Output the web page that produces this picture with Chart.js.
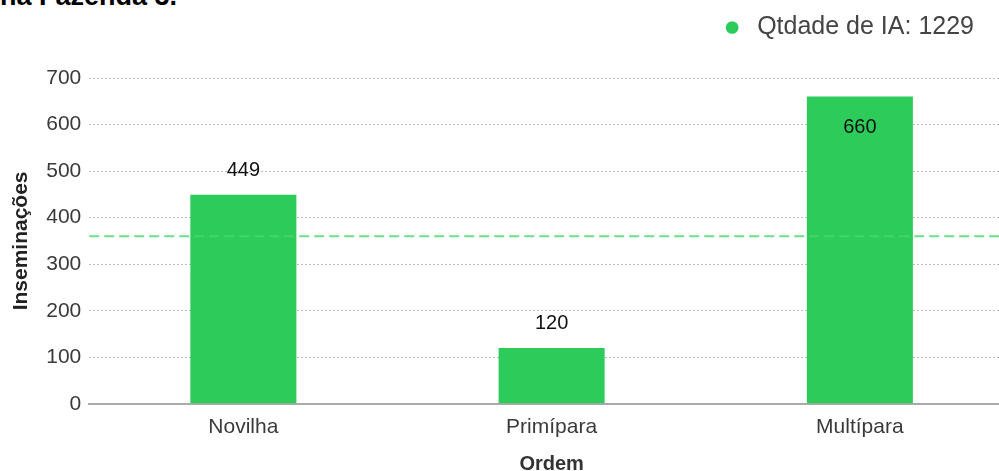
<!DOCTYPE html>
<html lang="pt">
<head>
    <meta charset="UTF-8">
    <title>Inseminações por Ordem</title>
    <script src="https://cdn.jsdelivr.net/npm/chart.js"></script>
    <style>
        html, body { margin: 0; padding: 0; background: #fff; overflow: hidden; width: 999px; height: 471px; }
        /* title is cut off at the top of the picture */
        #titulo {
            position: absolute;
            left: 0;
            top: -17px;
            font: bold 27px/27px "Liberation Sans", Arial, sans-serif;
            color: #000;
            white-space: nowrap;
        }
        /* chart runs a little past the right edge, like the original */
        #chartContainer {
            position: absolute;
            left: 0;
            top: -25px;
            width: 1014px;
            height: 496px;
        }
    </style>
</head>
<body>
    <div id="titulo">na Fazenda 3.</div>
    <div id="chartContainer">
        <canvas id="iaChart"></canvas>
    </div>

    <script>
        // data
        const categorias = ['Novilha', 'Primípara', 'Multípara'];
        const inseminacoes = [449, 120, 660];
        const mediaLinha = 360;
        const legendaTexto = 'Qtdade de IA: 1229';
        const yTicks = [0, 100, 200, 300, 400, 500, 600, 700];

        const verde = '#2dcb5a';
        const fonte = '"Liberation Sans", Arial, sans-serif';

        // legend keeps its side padding but takes less height
        const legendaAltura = {
            id: 'legendaAltura',
            beforeInit(chart) {
                const fitOrig = chart.legend.fit;
                chart.legend.fit = function () {
                    fitOrig.call(this);
                    this.height = 103;
                };
            }
        };

        // dashed reference line + value labels
        const extras = {
            id: 'extras',
            afterDatasetsDraw(chart) {
                const ctx = chart.ctx;
                const area = chart.chartArea;
                const y = chart.scales.y.getPixelForValue(mediaLinha);
                ctx.save();
                ctx.strokeStyle = 'rgba(70, 215, 110, 0.8)';
                ctx.lineWidth = 2;
                ctx.setLineDash([10, 5]);
                ctx.beginPath();
                ctx.moveTo(area.left, y);
                ctx.lineTo(area.right, y);
                ctx.stroke();
                ctx.restore();

                const meta = chart.getDatasetMeta(0);
                ctx.save();
                ctx.font = '20px ' + fonte;
                ctx.fillStyle = '#111';
                ctx.textAlign = 'center';
                ctx.textBaseline = 'middle';
                meta.data.forEach((bar, i) => {
                    const inside = bar.y - area.top < 40;
                    const ty = inside ? bar.y + 31 : bar.y - 24;
                    ctx.fillText(String(inseminacoes[i]), bar.x, ty);
                });
                ctx.restore();
            }
        };

        const ctx = document.getElementById('iaChart').getContext('2d');
        new Chart(ctx, {
            type: 'bar',
            data: {
                labels: categorias,
                datasets: [{
                    label: legendaTexto,
                    data: inseminacoes,
                    backgroundColor: verde,
                    borderWidth: 0,
                    categoryPercentage: 1,
                    barPercentage: 0.344
                }]
            },
            options: {
                responsive: true,
                maintainAspectRatio: false,
                animation: false,
                layout: { padding: { left: 5, right: 0, top: 0, bottom: 0 } },
                plugins: {
                    title: { display: false },
                    legend: {
                        align: 'end',
                        labels: {
                            usePointStyle: true,
                            pointStyle: 'circle',
                            boxWidth: 25,
                            boxHeight: 9,
                            color: '#444',
                            padding: 40,
                            font: { family: fonte, size: 25 }
                        }
                    },
                    tooltip: { enabled: false }
                },
                scales: {
                    x: {
                        grid: { display: false, drawTicks: false },
                        border: { color: '#aaa', width: 2 },
                        ticks: {
                            color: '#3a3a3a',
                            padding: 11,
                            font: { family: fonte, size: 21 }
                        },
                        title: {
                            display: true,
                            text: 'Ordem',
                            color: '#333',
                            padding: { top: 6, bottom: 0 },
                            font: { family: fonte, size: 20, weight: 'bold', lineHeight: 0.7 }
                        }
                    },
                    y: {
                        min: 0,
                        max: 700,
                        afterBuildTicks: axis => {
                            axis.ticks = yTicks.map(v => ({ value: v }));
                        },
                        ticks: {
                            color: '#3a3a3a',
                            padding: 8,
                            font: { family: fonte, size: 21 }
                        },
                        grid: {
                            color: '#bbb',
                            drawTicks: false
                        },
                        border: { display: false, dash: [2, 2] },
                        title: {
                            display: true,
                            text: 'Inseminações',
                            color: '#222',
                            padding: { top: 4, bottom: 4 },
                            font: { family: fonte, size: 21, weight: 'bold' }
                        }
                    }
                }
            },
            plugins: [legendaAltura, extras]
        });
    </script>
</body>
</html>
